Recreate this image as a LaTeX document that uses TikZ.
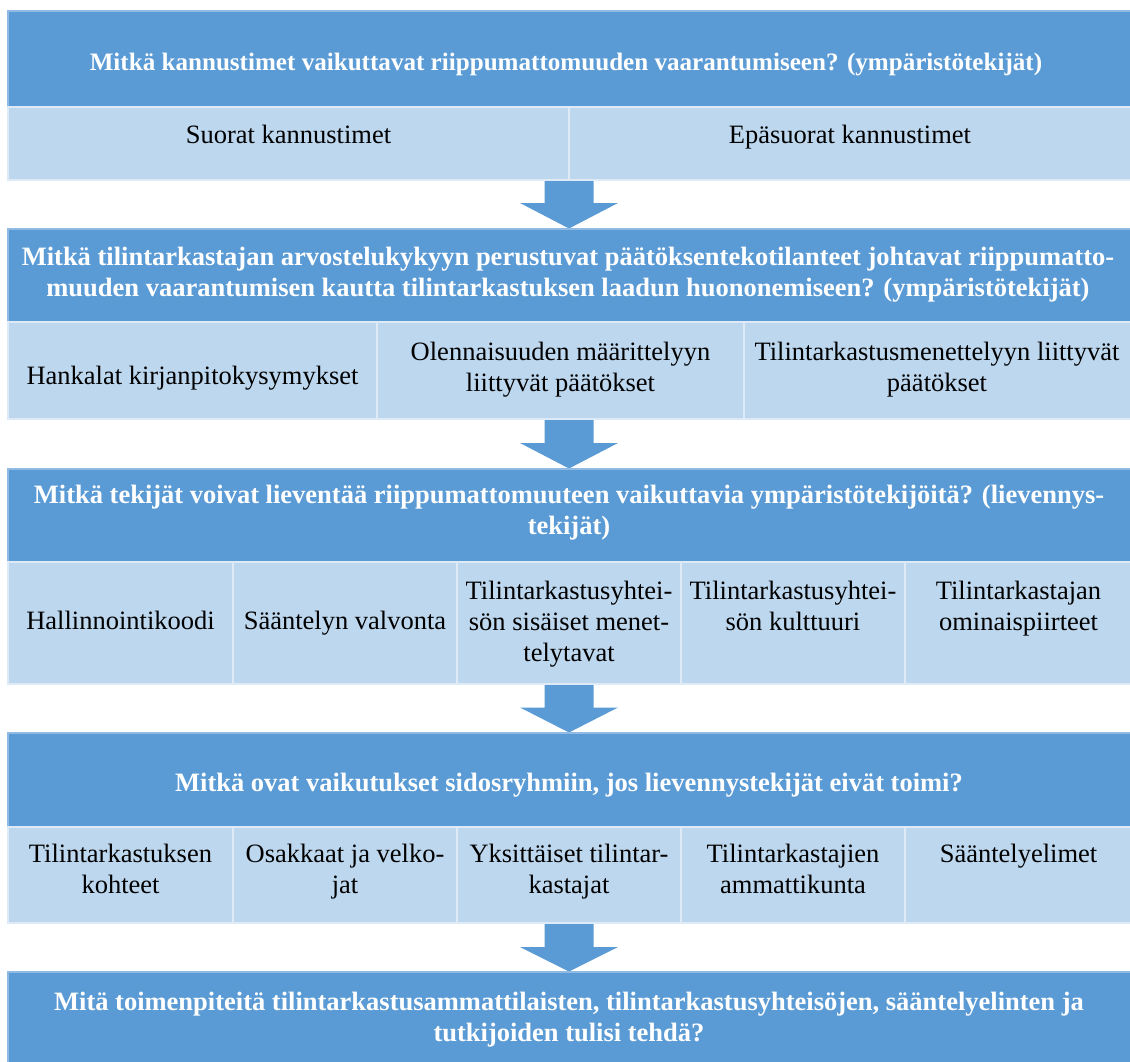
\documentclass[tikz,border=0pt]{standalone}
\usepackage{fontspec}
\setmainfont{Liberation Serif}
\definecolor{hdr}{HTML}{5B9BD5}
\definecolor{subfill}{HTML}{BDD7EE}
\definecolor{cellline}{HTML}{DEEBF7}
\definecolor{hdrline}{HTML}{8FBBE4}
\begin{document}
\begin{tikzpicture}[x=1pt,y=-1pt,
  hbox/.style={fill=hdr,draw=hdrline,line width=1.2pt},
  cbox/.style={fill=subfill,draw=cellline,line width=2.5pt},
  blockarrow/.style={fill=hdr,draw=none},
  htxt/.style={anchor=north,inner sep=0pt,align=center,text=white,font=\bfseries\fontsize{26.5}{31}\selectfont},
  ctxt/.style={anchor=north,inner sep=0pt,align=center,text=black,font=\fontsize{26.5}{31}\selectfont}]
\useasboundingbox (0,0) rectangle (1130,1061);
\clip (0,0) rectangle (1130,1061);

% block arrows
\fill[blockarrow] (544.5,180) -- (593.5,180) -- (593.5,203) -- (618,203) -- (569,228.5) -- (520,203) -- (544.5,203) -- cycle;
\fill[blockarrow] (544.5,420) -- (593.5,420) -- (593.5,443) -- (618,443) -- (569,468.5) -- (520,443) -- (544.5,443) -- cycle;
\fill[blockarrow] (544.5,684) -- (593.5,684) -- (593.5,707.5) -- (618,707.5) -- (569,732.5) -- (520,707.5) -- (544.5,707.5) -- cycle;
\fill[blockarrow] (544.5,923) -- (593.5,923) -- (593.5,947) -- (618,947) -- (569,971.5) -- (520,947) -- (544.5,947) -- cycle;

% header boxes
\draw[hbox] (8,11) rectangle (1132,107);
\draw[hbox] (8,229) rectangle (1132,322);
\draw[hbox] (8,469) rectangle (1132,562);
\draw[hbox] (8,733) rectangle (1132,827);
\draw[hbox] (8,972) rectangle (1132,1080);

% row 1 cells
\draw[cbox] (8,107) rectangle (569,180);
\draw[cbox] (569,107) rectangle (1132,180);
% row 2 cells
\draw[cbox] (8,322) rectangle (377,419);
\draw[cbox] (377,322) rectangle (744,419);
\draw[cbox] (744,322) rectangle (1132,419);
% row 3 cells
\draw[cbox] (8,562) rectangle (233,684);
\draw[cbox] (233,562) rectangle (457,684);
\draw[cbox] (457,562) rectangle (681,684);
\draw[cbox] (681,562) rectangle (905,684);
\draw[cbox] (905,562) rectangle (1132,684);
% row 4 cells
\draw[cbox] (8,827) rectangle (233,923);
\draw[cbox] (233,827) rectangle (457,923);
\draw[cbox] (457,827) rectangle (681,923);
\draw[cbox] (681,827) rectangle (905,923);
\draw[cbox] (905,827) rectangle (1132,923);

% header texts
\node[htxt,font=\bfseries\fontsize{25.1}{29.5}\selectfont] (t1) at (566,50) {\strut Mitkä kannustimet vaikuttavat riippumattomuuden vaarantumiseen? (ympäristötekijät)};
\node[htxt] (t2) at (568,243.3) {\strut Mitkä tilintarkastajan arvostelukykyyn perustuvat päätöksentekotilanteet johtavat riippumatto-\\\strut muuden vaarantumisen kautta tilintarkastuksen laadun huononemiseen? (ympäristötekijät)};
\node[htxt] (t3) at (569,481.3) {\strut Mitkä tekijät voivat lieventää riippumattomuuteen vaikuttavia ympäristötekijöitä? (lievennys-\\\strut tekijät)};
\node[htxt] (t4) at (569,769.3) {\strut Mitkä ovat vaikutukset sidosryhmiin, jos lievennystekijät eivät toimi?};
\node[htxt] (t5) at (569,988.3) {\strut Mitä toimenpiteitä tilintarkastusammattilaisten, tilintarkastusyhteisöjen, sääntelyelinten ja\\\strut tutkijoiden tulisi tehdä?};

% row 1 texts
\node[ctxt] (r1a) at (288.5,121.8) {\strut Suorat kannustimet};
\node[ctxt] (r1b) at (850,121.8) {\strut Epäsuorat kannustimet};

% row 2 texts
\node[ctxt] (r2a) at (192.5,362.8) {\strut Hankalat kirjanpitokysymykset};
\node[ctxt] (r2b) at (560.5,338.3) {\strut Olennaisuuden määrittelyyn\\\strut liittyvät päätökset};
\node[ctxt] (r2c) at (937,338.3) {\strut Tilintarkastusmenettelyyn liittyvät\\\strut päätökset};

% row 3 texts
\node[ctxt] (r3a) at (120.5,607.3) {\strut Hallinnointikoodi};
\node[ctxt] (r3b) at (345,607.3) {\strut Sääntelyn valvonta};
\node[ctxt] (r3c) at (569,577.8) {\strut Tilintarkastusyhtei-\\\strut sön sisäiset menet-\\\strut telytavat};
\node[ctxt] (r3d) at (793,577.8) {\strut Tilintarkastusyhtei-\\\strut sön kulttuuri};
\node[ctxt] (r3e) at (1018.5,577.8) {\strut Tilintarkastajan\\\strut ominaispiirteet};

% row 4 texts
\node[ctxt] (r4a) at (120.5,840.3) {\strut Tilintarkastuksen\\\strut kohteet};
\node[ctxt] (r4b) at (345,840.3) {\strut Osakkaat ja velko-\\\strut jat};
\node[ctxt] (r4c) at (569,840.3) {\strut Yksittäiset tilintar-\\\strut kastajat};
\node[ctxt] (r4d) at (793,840.3) {\strut Tilintarkastajien\\\strut ammattikunta};
\node[ctxt] (r4e) at (1018.5,840.3) {\strut Sääntelyelimet};
\end{tikzpicture}
\end{document}
